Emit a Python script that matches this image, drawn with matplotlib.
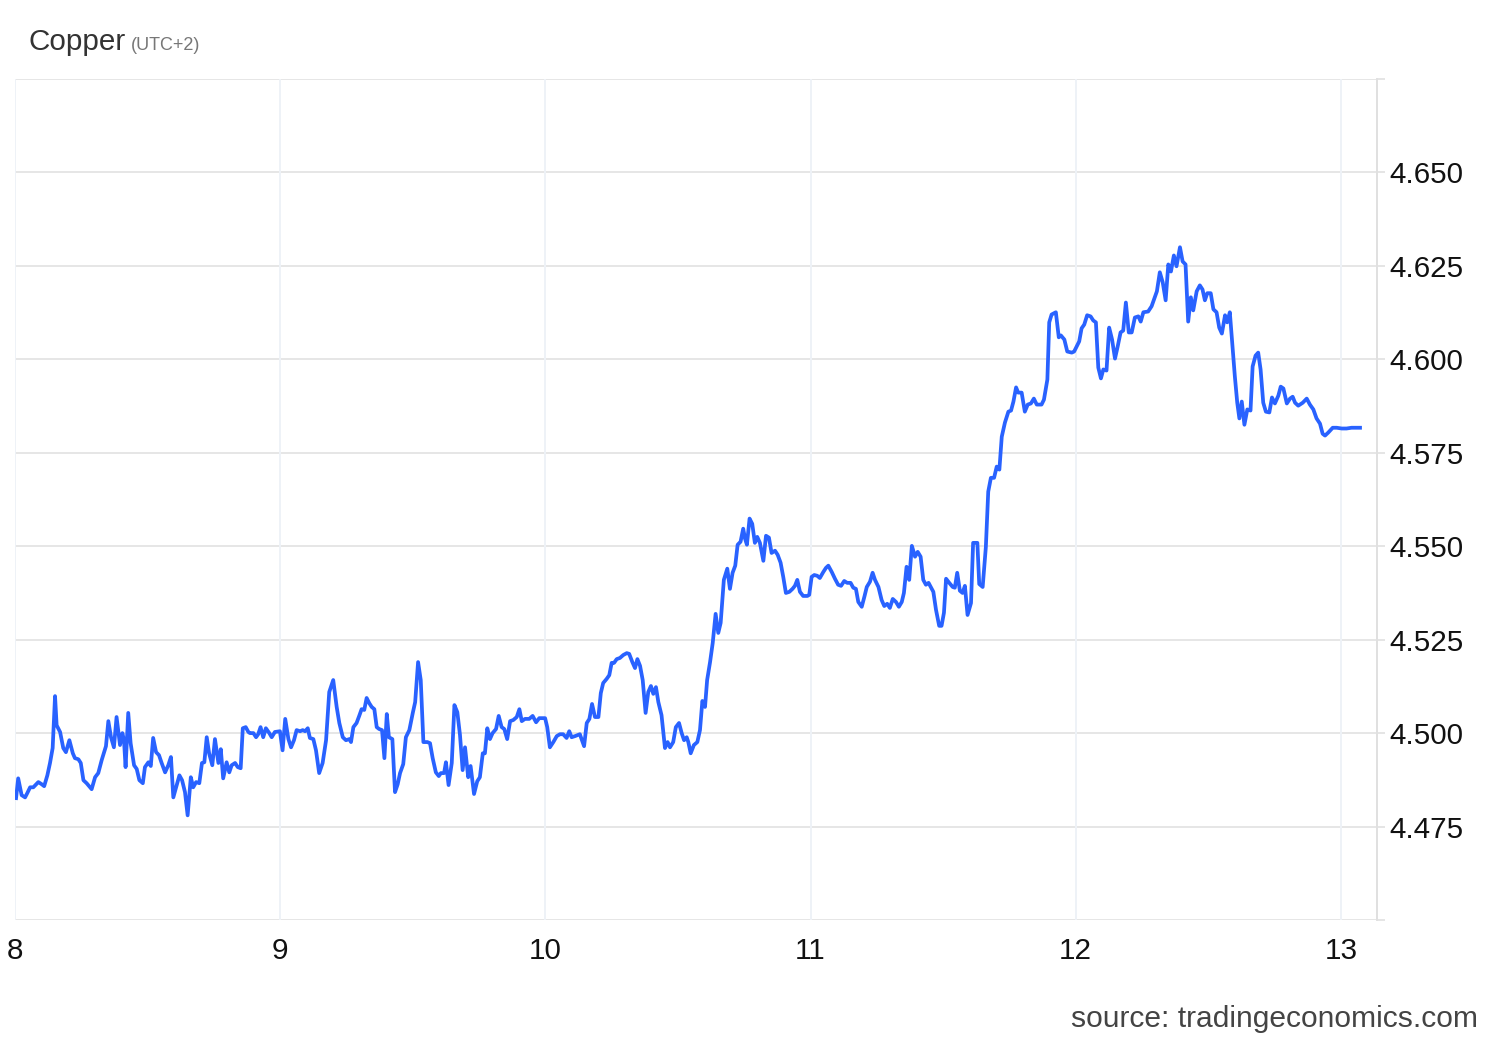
import numpy as np
import matplotlib.pyplot as plt

plt.rcParams['font.family'] = ['Liberation Sans', 'DejaVu Sans']

# Copper price, intraday, days 8-13 (day of month, fractional)
days = [
    8.004, 8.012, 8.025, 8.038, 8.046, 8.057, 8.069, 8.088, 8.101, 8.110,
    8.122, 8.132, 8.142, 8.151, 8.157, 8.170, 8.182, 8.192, 8.205, 8.218,
    8.226, 8.239, 8.248, 8.258, 8.270, 8.289, 8.302, 8.314, 8.327, 8.343,
    8.352, 8.362, 8.373, 8.383, 8.396, 8.405, 8.411, 8.417, 8.427, 8.436,
    8.449, 8.459, 8.469, 8.482, 8.490, 8.503, 8.512, 8.521, 8.532, 8.543,
    8.553, 8.566, 8.578, 8.588, 8.597, 8.610, 8.620, 8.630, 8.641, 8.651,
    8.663, 8.672, 8.683, 8.695, 8.705, 8.714, 8.723, 8.732, 8.744, 8.754,
    8.767, 8.776, 8.785, 8.798, 8.808, 8.817, 8.830, 8.840, 8.851, 8.859,
    8.870, 8.880, 8.886, 8.899, 8.909, 8.917, 8.926, 8.936, 8.946, 8.959,
    8.968, 8.980, 8.999, 9.009, 9.019, 9.031, 9.041, 9.052, 9.062, 9.075,
    9.085, 9.094, 9.104, 9.112, 9.125, 9.135, 9.147, 9.160, 9.173, 9.185,
    9.200, 9.213, 9.223, 9.236, 9.248, 9.261, 9.267, 9.276, 9.288, 9.298,
    9.307, 9.317, 9.326, 9.336, 9.345, 9.355, 9.364, 9.373, 9.384, 9.393,
    9.402, 9.410, 9.423, 9.433, 9.443, 9.452, 9.464, 9.474, 9.487, 9.500,
    9.509, 9.520, 9.530, 9.540, 9.555, 9.565, 9.575, 9.587, 9.598, 9.606,
    9.618, 9.625, 9.635, 9.647, 9.657, 9.668, 9.678, 9.688, 9.697, 9.709,
    9.718, 9.731, 9.743, 9.753, 9.764, 9.772, 9.781, 9.791, 9.801, 9.814,
    9.824, 9.835, 9.845, 9.856, 9.867, 9.879, 9.892, 9.902, 9.911, 9.923,
    9.939, 9.952, 9.965, 9.977, 9.999, 10.007, 10.017, 10.030, 10.043, 10.055,
    10.067, 10.080, 10.090, 10.099, 10.112, 10.130, 10.146, 10.156, 10.166, 10.176,
    10.187, 10.200, 10.209, 10.218, 10.231, 10.241, 10.250, 10.259, 10.269, 10.281,
    10.294, 10.307, 10.316, 10.328, 10.338, 10.347, 10.357, 10.367, 10.378, 10.388,
    10.398, 10.407, 10.417, 10.426, 10.438, 10.451, 10.461, 10.470, 10.482, 10.492,
    10.504, 10.514, 10.523, 10.533, 10.539, 10.548, 10.560, 10.573, 10.583, 10.592,
    10.602, 10.610, 10.621, 10.631, 10.642, 10.652, 10.661, 10.673, 10.686, 10.696,
    10.706, 10.716, 10.725, 10.736, 10.746, 10.753, 10.760, 10.770, 10.780, 10.790,
    10.799, 10.809, 10.822, 10.832, 10.843, 10.853, 10.866, 10.876, 10.887, 10.897,
    10.907, 10.920, 10.932, 10.941, 10.950, 10.960, 10.972, 10.988, 10.995, 11.004,
    11.014, 11.025, 11.035, 11.048, 11.058, 11.067, 11.080, 11.092, 11.104, 11.115,
    11.127, 11.138, 11.151, 11.161, 11.171, 11.180, 11.193, 11.203, 11.212, 11.224,
    11.234, 11.243, 11.256, 11.268, 11.278, 11.289, 11.299, 11.310, 11.322, 11.333,
    11.344, 11.352, 11.362, 11.372, 11.382, 11.394, 11.404, 11.415, 11.425, 11.435,
    11.445, 11.457, 11.463, 11.473, 11.485, 11.494, 11.503, 11.511, 11.523, 11.536,
    11.544, 11.553, 11.563, 11.573, 11.582, 11.592, 11.605, 11.613, 11.629, 11.636,
    11.649, 11.661, 11.670, 11.680, 11.692, 11.702, 11.712, 11.721, 11.733, 11.746,
    11.756, 11.765, 11.775, 11.783, 11.796, 11.808, 11.819, 11.831, 11.842, 11.853,
    11.871, 11.880, 11.893, 11.900, 11.909, 11.925, 11.936, 11.944, 11.957, 11.968,
    11.985, 11.994, 12.003, 12.013, 12.022, 12.032, 12.043, 12.056, 12.066, 12.076,
    12.085, 12.095, 12.104, 12.116, 12.126, 12.137, 12.148, 12.158, 12.169, 12.179,
    12.189, 12.200, 12.211, 12.223, 12.236, 12.245, 12.255, 12.273, 12.286, 12.295,
    12.306, 12.317, 12.328, 12.339, 12.349, 12.359, 12.370, 12.380, 12.393, 12.403,
    12.414, 12.424, 12.434, 12.443, 12.456, 12.468, 12.478, 12.487, 12.496, 12.509,
    12.519, 12.531, 12.541, 12.551, 12.563, 12.571, 12.581, 12.592, 12.600, 12.609,
    12.617, 12.626, 12.636, 12.647, 12.659, 12.667, 12.678, 12.688, 12.697, 12.707,
    12.717, 12.730, 12.740, 12.751, 12.764, 12.773, 12.783, 12.796, 12.808, 12.818,
    12.827, 12.839, 12.856, 12.871, 12.883, 12.896, 12.908, 12.921, 12.931, 12.940,
    12.952, 12.969, 12.984, 13.003, 13.021, 13.040, 13.072,
]
prices = [
    4.4826, 4.4879, 4.4834, 4.4828, 4.4839, 4.4855, 4.4855, 4.4869, 4.4863, 4.4858,
    4.4887, 4.4920, 4.4960, 4.5099, 4.5021, 4.5003, 4.4960, 4.4949, 4.4981, 4.4946,
    4.4933, 4.4930, 4.4920, 4.4874, 4.4866, 4.4850, 4.4882, 4.4893, 4.4928, 4.4965,
    4.5032, 4.4989, 4.4962, 4.5043, 4.4968, 4.5000, 4.4981, 4.4909, 4.5054, 4.4973,
    4.4914, 4.4904, 4.4874, 4.4866, 4.4909, 4.4922, 4.4912, 4.4987, 4.4949, 4.4941,
    4.4920, 4.4895, 4.4914, 4.4936, 4.4828, 4.4861, 4.4887, 4.4874, 4.4842, 4.4780,
    4.4882, 4.4855, 4.4869, 4.4866, 4.4920, 4.4922, 4.4989, 4.4946, 4.4914, 4.4984,
    4.4920, 4.4957, 4.4879, 4.4922, 4.4895, 4.4914, 4.4920, 4.4909, 4.4906, 4.5013,
    4.5016, 4.5003, 4.5000, 4.5000, 4.4989, 4.4997, 4.5016, 4.4989, 4.5013, 4.5000,
    4.4989, 4.5003, 4.5005, 4.4954, 4.5038, 4.4984, 4.4962, 4.4981, 4.5008, 4.5005,
    4.5008, 4.5005, 4.5013, 4.4987, 4.4984, 4.4954, 4.4893, 4.4920, 4.4981, 4.5110,
    4.5142, 4.5070, 4.5027, 4.4989, 4.4981, 4.4984, 4.4976, 4.5016, 4.5027, 4.5046,
    4.5064, 4.5062, 4.5094, 4.5080, 4.5070, 4.5064, 4.5016, 4.5011, 4.5008, 4.4933,
    4.5051, 4.4989, 4.4984, 4.4842, 4.4863, 4.4893, 4.4917, 4.4989, 4.5008, 4.5054,
    4.5083, 4.5190, 4.5142, 4.4976, 4.4976, 4.4973, 4.4933, 4.4895, 4.4885, 4.4893,
    4.4893, 4.4922, 4.4861, 4.4920, 4.5075, 4.5056, 4.4995, 4.4901, 4.4962, 4.4882,
    4.4912, 4.4837, 4.4871, 4.4882, 4.4946, 4.4946, 4.5013, 4.4984, 4.5000, 4.5011,
    4.5046, 4.5016, 4.5011, 4.4984, 4.5032, 4.5035, 4.5043, 4.5064, 4.5032, 4.5038,
    4.5038, 4.5046, 4.5029, 4.5040, 4.5040, 4.5016, 4.4962, 4.4976, 4.4992, 4.4997,
    4.4997, 4.4987, 4.5005, 4.4989, 4.4992, 4.4997, 4.4965, 4.5027, 4.5038, 4.5078,
    4.5043, 4.5043, 4.5107, 4.5134, 4.5145, 4.5155, 4.5188, 4.5188, 4.5198, 4.5201,
    4.5209, 4.5214, 4.5212, 4.5190, 4.5174, 4.5198, 4.5180, 4.5142, 4.5054, 4.5110,
    4.5126, 4.5105, 4.5123, 4.5083, 4.5048, 4.4960, 4.4976, 4.4962, 4.4976, 4.5016,
    4.5027, 4.5000, 4.4981, 4.4989, 4.4976, 4.4946, 4.4968, 4.4976, 4.5008, 4.5086,
    4.5070, 4.5142, 4.5190, 4.5241, 4.5319, 4.5268, 4.5295, 4.5410, 4.5440, 4.5386,
    4.5429, 4.5448, 4.5504, 4.5512, 4.5547, 4.5520, 4.5504, 4.5574, 4.5560, 4.5509,
    4.5525, 4.5509, 4.5461, 4.5528, 4.5523, 4.5482, 4.5488, 4.5477, 4.5456, 4.5418,
    4.5375, 4.5378, 4.5386, 4.5394, 4.5410, 4.5378, 4.5367, 4.5367, 4.5370, 4.5418,
    4.5423, 4.5421, 4.5415, 4.5431, 4.5442, 4.5448, 4.5431, 4.5413, 4.5397, 4.5394,
    4.5407, 4.5402, 4.5402, 4.5389, 4.5386, 4.5351, 4.5338, 4.5365, 4.5391, 4.5405,
    4.5429, 4.5410, 4.5391, 4.5356, 4.5340, 4.5346, 4.5335, 4.5359, 4.5351, 4.5338,
    4.5351, 4.5375, 4.5445, 4.5410, 4.5501, 4.5472, 4.5485, 4.5472, 4.5410, 4.5397,
    4.5402, 4.5386, 4.5378, 4.5330, 4.5287, 4.5287, 4.5322, 4.5413, 4.5402, 4.5391,
    4.5389, 4.5429, 4.5381, 4.5375, 4.5394, 4.5316, 4.5348, 4.5509, 4.5509, 4.5399,
    4.5391, 4.5498, 4.5646, 4.5683, 4.5683, 4.5713, 4.5705, 4.5793, 4.5831, 4.5860,
    4.5863, 4.5887, 4.5925, 4.5911, 4.5911, 4.5860, 4.5879, 4.5882, 4.5895, 4.5879,
    4.5879, 4.5892, 4.5946, 4.6099, 4.6120, 4.6126, 4.6059, 4.6064, 4.6053, 4.6021,
    4.6018, 4.6021, 4.6034, 4.6048, 4.6083, 4.6093, 4.6118, 4.6115, 4.6104, 4.6099,
    4.5978, 4.5949, 4.5973, 4.5970, 4.6085, 4.6053, 4.6002, 4.6034, 4.6072, 4.6077,
    4.6152, 4.6072, 4.6072, 4.6112, 4.6115, 4.6101, 4.6126, 4.6128, 4.6142, 4.6160,
    4.6182, 4.6233, 4.6206, 4.6158, 4.6254, 4.6235, 4.6278, 4.6249, 4.6300, 4.6262,
    4.6254, 4.6101, 4.6166, 4.6131, 4.6182, 4.6198, 4.6187, 4.6158, 4.6177, 4.6177,
    4.6134, 4.6126, 4.6085, 4.6069, 4.6118, 4.6099, 4.6126, 4.6026, 4.5954, 4.5884,
    4.5842, 4.5887, 4.5825, 4.5866, 4.5863, 4.5981, 4.6010, 4.6018, 4.5973, 4.5884,
    4.5860, 4.5858, 4.5898, 4.5882, 4.5903, 4.5927, 4.5922, 4.5882, 4.5895, 4.5900,
    4.5884, 4.5876, 4.5884, 4.5895, 4.5879, 4.5866, 4.5842, 4.5828, 4.5801, 4.5796,
    4.5804, 4.5817, 4.5817, 4.5815, 4.5815, 4.5817, 4.5817,
]

x_ticks = [8, 9, 10, 11, 12, 13]
y_ticks = [4.450, 4.475, 4.500, 4.525, 4.550, 4.575, 4.600, 4.625, 4.650, 4.675]
y_labels = ['', '4.475', '4.500', '4.525', '4.550', '4.575', '4.600', '4.625', '4.650', '']

fig = plt.figure(figsize=(15, 10.4), dpi=100)
ax = fig.add_axes([0.01, 0.1154, 0.908, 0.8086])

ax.plot(days, prices, color='#2962ff', linewidth=2.7, solid_joinstyle='round')

ax.set_xlim(8.0, 13.136)
ax.set_ylim(4.450, 4.675)

ax.set_xticks(x_ticks)
ax.set_xticklabels([str(t) for t in x_ticks])
ax.set_yticks(y_ticks)
ax.set_yticklabels(y_labels)

ax.yaxis.tick_right()
ax.tick_params(axis='y', length=6, width=1.2, color='#e0e0e0', pad=3,
               labelsize=21.3, labelcolor='#111111')
ax.tick_params(axis='x', length=0, pad=12, labelsize=21.3, labelcolor='#111111')

# grid: horizontal grey, vertical pale blue
for y in y_ticks:
    ax.axhline(y, color='#e6e6e6', linewidth=1.4, zorder=0)
for x in x_ticks:
    ax.axvline(x, color='#eef2f7', linewidth=1.4, zorder=0)

for side in ['top', 'left', 'bottom']:
    ax.spines[side].set_visible(False)
ax.spines['right'].set_color('#e0e0e0')
ax.spines['right'].set_linewidth(1.4)

fig.text(29 / 1500, 1 - 50 / 1040, 'Copper', fontsize=21.3, color='#333333')
fig.text(131 / 1500, 1 - 50 / 1040, '(UTC+2)', fontsize=13, color='#777777')
fig.text(1478 / 1500, 1 - 1027 / 1040, 'source: tradingeconomics.com',
         fontsize=21.6, color='#444444', ha='right')

fig.savefig('out.png', dpi=100)
